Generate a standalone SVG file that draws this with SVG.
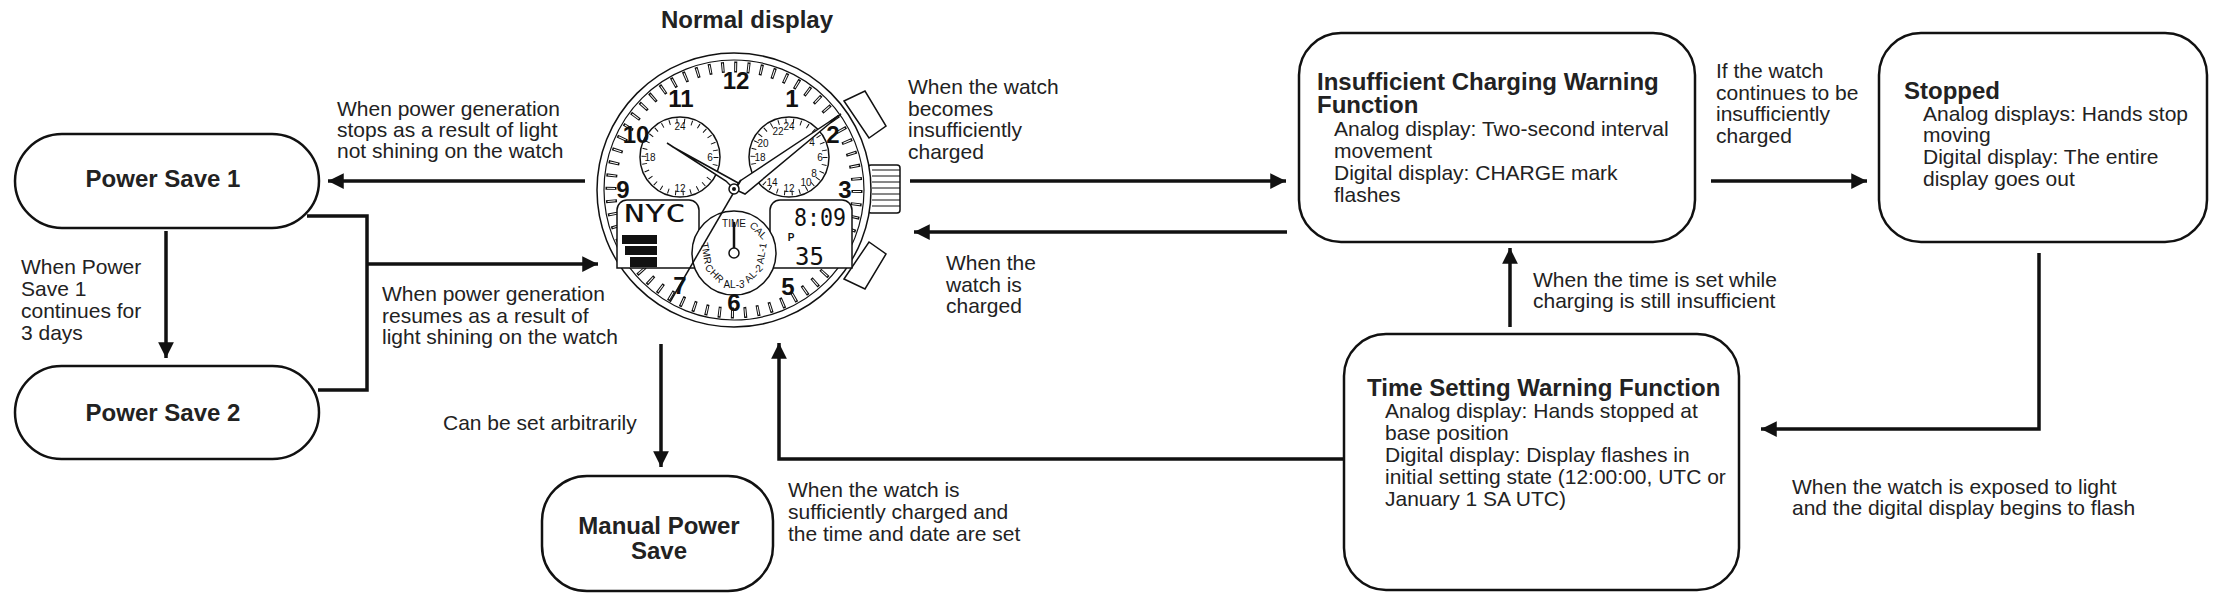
<svg xmlns="http://www.w3.org/2000/svg" width="2214" height="601" viewBox="0 0 2214 601">
<style>
.t{font-family:"Liberation Sans",Arial,sans-serif;font-size:21px;fill:#222}
.b{font-family:"Liberation Sans",Arial,sans-serif;font-size:24px;font-weight:bold;fill:#222}
.box{fill:#fff;stroke:#111;stroke-width:2.5}
.c{fill:none;stroke:#111;stroke-width:3.5}
.w{fill:#fff;stroke:#111;stroke-width:1.5}
.wn{font-family:"Liberation Sans",Arial,sans-serif;font-weight:bold;font-size:24px;fill:#111;text-anchor:middle}
.ws{font-family:"Liberation Sans",Arial,sans-serif;font-size:10px;fill:#111;text-anchor:middle}
.lcd{font-family:"DejaVu Sans Mono",monospace;font-size:24px;fill:#111}
</style>
<defs>
<marker id="ah" viewBox="0 0 10 10" refX="10" refY="5" markerWidth="5" markerHeight="4.5" orient="auto" markerUnits="strokeWidth">
<path d="M0,0 L10,5 L0,10 z" fill="#111"/>
</marker>
</defs>
<rect width="2214" height="601" fill="#fff"/>

<g id="connectors">
<path class="c" d="M585,181 H328" marker-end="url(#ah)"/>
<path class="c" d="M166,231 V358" marker-end="url(#ah)"/>
<path class="c" d="M307,216 H367 V390 H318"/>
<path class="c" d="M367,264 H598" marker-end="url(#ah)"/>
<path class="c" d="M661,344 V467" marker-end="url(#ah)"/>
<path class="c" d="M1344,459 H779 V343" marker-end="url(#ah)"/>
<path class="c" d="M910,181 H1286" marker-end="url(#ah)"/>
<path class="c" d="M1287,232 H914" marker-end="url(#ah)"/>
<path class="c" d="M1711,181 H1867" marker-end="url(#ah)"/>
<path class="c" d="M2039,253 V429 H1761" marker-end="url(#ah)"/>
<path class="c" d="M1510,327 V248" marker-end="url(#ah)"/>
</g>

<g id="labels">
<text class="b" x="747" y="28" text-anchor="middle">Normal display</text>
<text class="t" x="337" y="116">When power generation</text>
<text class="t" x="337" y="137">stops as a result of light</text>
<text class="t" x="337" y="158">not shining on the watch</text>
<text class="t" x="21" y="274">When Power</text>
<text class="t" x="21" y="296">Save 1</text>
<text class="t" x="21" y="318">continues for</text>
<text class="t" x="21" y="340">3 days</text>
<text class="t" x="382" y="301">When power generation</text>
<text class="t" x="382" y="323">resumes as a result of</text>
<text class="t" x="382" y="344">light shining on the watch</text>
<text class="t" x="443" y="430">Can be set arbitrarily</text>
<text class="t" x="788" y="497">When the watch is</text>
<text class="t" x="788" y="519">sufficiently charged and</text>
<text class="t" x="788" y="541">the time and date are set</text>
<text class="t" x="908" y="94">When the watch</text>
<text class="t" x="908" y="116">becomes</text>
<text class="t" x="908" y="137">insufficiently</text>
<text class="t" x="908" y="159">charged</text>
<text class="t" x="946" y="270">When the</text>
<text class="t" x="946" y="292">watch is</text>
<text class="t" x="946" y="313">charged</text>
<text class="t" x="1716" y="78">If the watch</text>
<text class="t" x="1716" y="100">continues to be</text>
<text class="t" x="1716" y="121">insufficiently</text>
<text class="t" x="1716" y="143">charged</text>
<text class="t" x="1533" y="287">When the time is set while</text>
<text class="t" x="1533" y="308">charging is still insufficient</text>
<text class="t" x="1792" y="494">When the watch is exposed to light</text>
<text class="t" x="1792" y="515">and the digital display begins to flash</text>
</g>

<g id="ps1"><rect class="box" x="15" y="134" width="304" height="94" rx="47"/><text class="b" x="163" y="187" text-anchor="middle">Power Save 1</text></g>
<g id="ps2"><rect class="box" x="15" y="366" width="304" height="93" rx="46.5"/><text class="b" x="163" y="421" text-anchor="middle">Power Save 2</text></g>
<g id="manual"><rect class="box" x="542" y="476" width="231" height="115" rx="45"/><text class="b" x="659" y="534" text-anchor="middle">Manual Power</text><text class="b" x="659" y="559" text-anchor="middle">Save</text></g>
<g id="icwf"><rect class="box" x="1299" y="33" width="396" height="209" rx="42"/>
<text class="b" x="1317" y="90">Insufficient Charging Warning</text>
<text class="b" x="1317" y="113">Function</text>
<text class="t" x="1334" y="136">Analog display: Two-second interval</text>
<text class="t" x="1334" y="158">movement</text>
<text class="t" x="1334" y="180">Digital display: CHARGE mark</text>
<text class="t" x="1334" y="202">flashes</text></g>
<g id="stopped"><rect class="box" x="1879" y="33" width="328" height="209" rx="42"/>
<text class="b" x="1904" y="99">Stopped</text>
<text class="t" x="1923" y="121">Analog displays: Hands stop</text>
<text class="t" x="1923" y="142">moving</text>
<text class="t" x="1923" y="164">Digital display: The entire</text>
<text class="t" x="1923" y="186">display goes out</text></g>
<g id="tswf"><rect class="box" x="1344" y="334" width="395" height="256" rx="42"/>
<text class="b" x="1367" y="396">Time Setting Warning Function</text>
<text class="t" x="1385" y="418">Analog display: Hands stopped at</text>
<text class="t" x="1385" y="440">base position</text>
<text class="t" x="1385" y="462">Digital display: Display flashes in</text>
<text class="t" x="1385" y="484">initial setting state (12:00:00, UTC or</text>
<text class="t" x="1385" y="506">January 1 SA UTC)</text></g>

<g id="watch">
<path class="w" d="M844,101 L865,91 L886,126 L869,138 z"/>
<path class="w" d="M844,279 L865,289 L886,254 L869,242 z"/>
<rect class="w" x="868" y="165" width="32" height="48" rx="3"/>
<path d="M872,170 H900 M872,176 H900 M872,182 H900 M872,188 H900 M872,194 H900 M872,200 H900 M872,206 H900" stroke="#111" stroke-width="1"/>
<circle class="w" cx="734" cy="190" r="137" stroke-width="2"/>
<circle cx="734" cy="190" r="130" fill="none" stroke="#111" stroke-width="1.2"/>
<circle cx="734" cy="190" r="123" fill="none" stroke="#111" stroke-width="11" stroke-dasharray="3 9.88"/>
<circle cx="734" cy="190" r="123" fill="none" stroke="#fff" stroke-width="8" stroke-dasharray="1 11.88" stroke-dashoffset="-1"/>
<circle cx="680" cy="157" r="40" class="w"/>
<circle cx="680" cy="157" r="36" fill="none" stroke="#111" stroke-width="5" stroke-dasharray="1 6.54"/>
<circle cx="789" cy="157" r="40" class="w"/>
<circle cx="789" cy="157" r="36" fill="none" stroke="#111" stroke-width="5" stroke-dasharray="1 6.54"/>
<text class="ws" x="680" y="130">24</text><text class="ws" x="650" y="161">18</text><text class="ws" x="710" y="161">6</text><text class="ws" x="680" y="192">12</text>
<text class="ws" x="789" y="130">24</text><text class="ws" x="778" y="135">22</text><text class="ws" x="763" y="147">20</text><text class="ws" x="760" y="161">18</text><text class="ws" x="812" y="146">4</text><text class="ws" x="820" y="161">6</text><text class="ws" x="814" y="177">8</text><text class="ws" x="806" y="186">10</text><text class="ws" x="789" y="192">12</text><text class="ws" x="772" y="186">14</text>
<path class="w" d="M617,210 a10,10 0 0 1 10,-10 H689 a10,10 0 0 1 10,10 V268 H617 z"/>
<path class="w" d="M770,210 a10,10 0 0 1 10,-10 H842 a10,10 0 0 1 10,10 V268 H770 z"/>
<text class="lcd" x="624" y="222" textLength="62" lengthAdjust="spacingAndGlyphs">NYC</text>
<text class="lcd" x="794" y="226" textLength="52" lengthAdjust="spacingAndGlyphs">8:09</text>
<text class="lcd" x="795" y="265">35</text>
<text class="ws" x="791" y="241" font-weight="bold">P</text>
<rect x="622" y="235" width="35" height="9" fill="#111"/>
<rect x="625" y="246" width="32" height="9" fill="#111"/>
<rect x="630" y="257" width="27" height="10" fill="#111"/>
<circle cx="734" cy="253" r="42" class="w"/>
<text class="ws" x="734" y="227" font-size="9">TIME</text>
<text class="ws" x="756" y="233" font-size="9" transform="rotate(45 756 233)">CAL</text>
<text class="ws" x="765" y="254" font-size="9" transform="rotate(-80 765 254)">AL-1</text>
<text class="ws" x="756" y="276" font-size="9" transform="rotate(-45 756 276)">AL-2</text>
<text class="ws" x="734" y="288" font-size="9">AL-3</text>
<text class="ws" x="712" y="276" font-size="9" transform="rotate(45 712 276)">CHR</text>
<text class="ws" x="703" y="254" font-size="9" transform="rotate(80 703 254)">TMR</text>
<line x1="734" y1="253" x2="734" y2="222" stroke="#111" stroke-width="2.5"/>
<circle cx="734" cy="253" r="5" class="w"/>
<text class="wn" x="736" y="89">12</text>
<text class="wn" x="681" y="107">11</text>
<text class="wn" x="792" y="107">1</text>
<text class="wn" x="636" y="143">10</text>
<text class="wn" x="833" y="143">2</text>
<text class="wn" x="623" y="198">9</text>
<text class="wn" x="845" y="198">3</text>
<text class="wn" x="680" y="294">7</text>
<text class="wn" x="734" y="311">6</text>
<text class="wn" x="788" y="295">5</text>
<path class="w" d="M734,189 L726,181 L667,143 L673,147 L740,184 z" stroke-width="1.3"/>
<path class="w" d="M734,189 L740,181 L841,114 L745,194 z" stroke-width="1.3"/>
<path d="M741,180 L670,302" stroke="#111" stroke-width="1.5"/>
<circle cx="734" cy="189" r="5" class="w"/>
<circle cx="734" cy="189" r="2" fill="#111"/>
</g>
</svg>
